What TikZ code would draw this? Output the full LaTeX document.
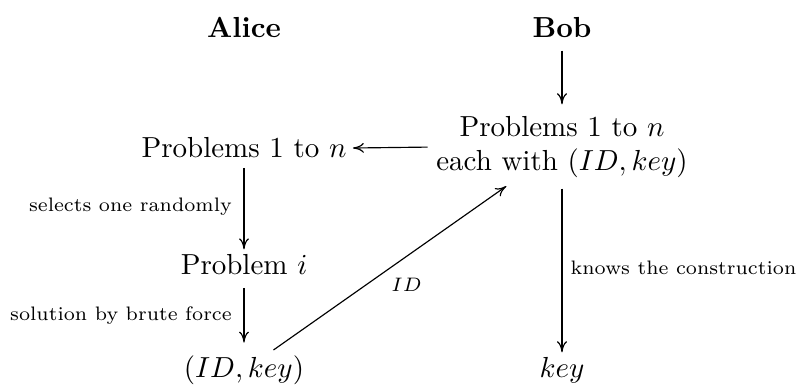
\documentclass[tikz,border=0pt]{standalone}
\usetikzlibrary{arrows.meta}
\newcommand{\smlab}[1]{\scalebox{0.962}{\scriptsize #1}}
\begin{document}
\begin{tikzpicture}[x=0.3448pt,y=-0.3448pt,
  txt/.style={inner sep=0pt},
  arr/.style={draw, line width=0.4pt, -{To[length=3.8pt,width=3.4pt]}},
  note/.style={inner sep=0pt}]
\useasboundingbox (0,0) rectangle (799,385);
\node[txt,anchor=base] (alice) at (244,38) {\textbf{Alice}};
\node[txt,anchor=base] (bob) at (562,38) {\textbf{Bob}};
\node[txt,align=center] (R) at (562,147) {Problems 1 to $n$\\each with $(ID,key)$};
\node[txt,anchor=base] (L) at (244,158) {Problems 1 to $n$};
\node[txt,anchor=base] (P) at (244,275) {Problem $i$};
\node[txt,anchor=base] (A) at (244,378) {$(ID,key)$};
\node[txt,anchor=base] (K) at (562,378) {$key$};
\draw[arr, shorten <=4.1pt, shorten >=3.8pt] (bob.south) -- (R.north);
\draw[arr, shorten <=2.8pt, shorten >=2pt] (R.west) -- (L.east);
\draw[arr, shorten <=3.1pt, shorten >=1.7pt] (L.south) -- node[midway, left=4pt, note] {\smlab{selects one randomly}} (P.north);
\draw[arr, shorten <=4.1pt, shorten >=4.5pt] (P.south) -- node[midway, left=4pt, note] {\smlab{solution by brute force}} (A.north);
\draw[arr, shorten <=3.4pt, shorten >=4.5pt] (A) -- node[midway, shift={(5.3pt,-6.2pt)}, note] {\smlab{$ID$}} (R);
\draw[arr, shorten <=3.4pt, shorten >=1.7pt] (R.south) -- node[midway, right=2.8pt, note] {\smlab{knows the construction}} (K.north);
\end{tikzpicture}
\end{document}
